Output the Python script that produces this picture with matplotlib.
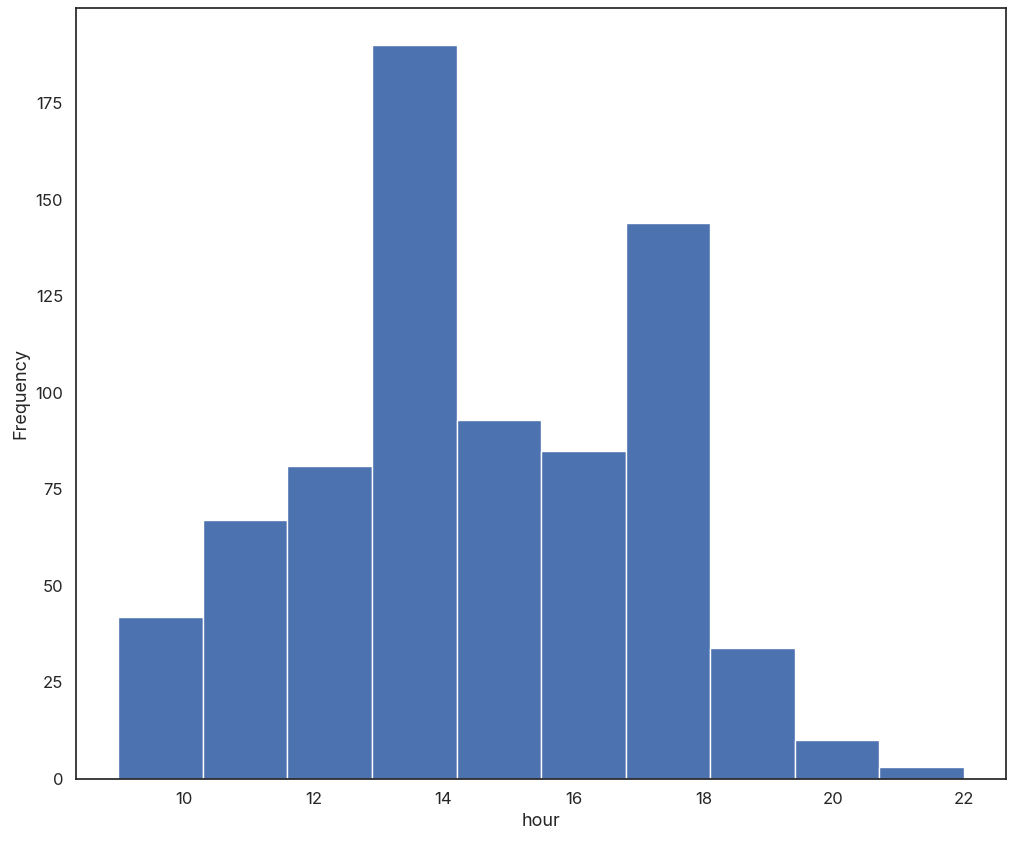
import numpy as np
import matplotlib
matplotlib.use("Agg")
import matplotlib.pyplot as plt
import seaborn as sns

# hour histogram, 10 bins between first and last hour
hour_min = 9
hour_max = 22
counts = [42, 67, 81, 190, 93, 85, 144, 34, 10, 3]

sns.set_theme(style="white")
plt.rcParams['font.family'] = ['Inter', 'DejaVu Sans']
plt.rcParams['xtick.labelsize'] = 12
plt.rcParams['ytick.labelsize'] = 12
plt.rcParams['axes.labelsize'] = 13

edges = np.linspace(hour_min, hour_max, len(counts) + 1)
centers = (edges[:-1] + edges[1:]) / 2

fig, ax = plt.subplots(figsize=(10.16, 8.44), dpi=100)
ax.hist(centers, bins=edges, weights=counts, color="#4C72B0", edgecolor="white", linewidth=1)
ax.set_xlabel("hour")
ax.set_ylabel("Frequency")
ax.set_xticks([10, 12, 14, 16, 18, 20, 22])

fig.subplots_adjust(left=0.075, right=0.99, top=0.99, bottom=0.077)
fig.savefig("out.png")
